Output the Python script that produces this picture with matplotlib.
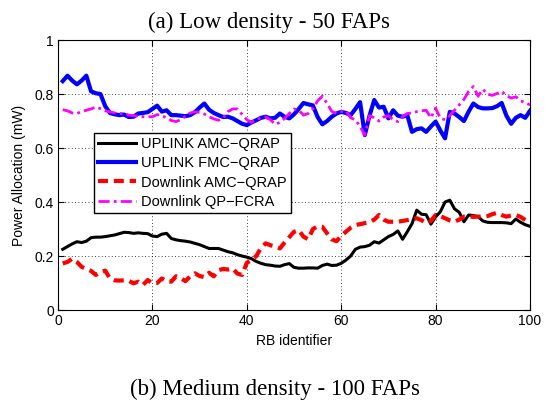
import numpy as np
import matplotlib
matplotlib.use('Agg')
import matplotlib.pyplot as plt

plt.rcParams['font.family'] = ['Liberation Sans', 'DejaVu Sans']

# RB identifiers
rb = np.arange(1, 101)

uplink_amc = [0.225, 0.235, 0.245, 0.253, 0.25, 0.255, 0.268, 0.27, 0.27, 0.272,
              0.275, 0.278, 0.283, 0.288, 0.287, 0.284, 0.286, 0.284, 0.283, 0.274,
              0.272, 0.281, 0.284, 0.265, 0.26, 0.257, 0.255, 0.252, 0.247, 0.242,
              0.235, 0.228, 0.228, 0.228, 0.222, 0.216, 0.212, 0.205, 0.2, 0.196,
              0.19, 0.18, 0.173, 0.168, 0.166, 0.163, 0.162, 0.168, 0.172, 0.158,
              0.155, 0.155, 0.156, 0.156, 0.155, 0.165, 0.17, 0.165, 0.166, 0.173,
              0.185, 0.2, 0.225, 0.233, 0.235, 0.24, 0.253, 0.248, 0.26, 0.272,
              0.28, 0.293, 0.262, 0.29, 0.32, 0.37, 0.355, 0.353, 0.318, 0.345,
              0.364, 0.4, 0.407, 0.375, 0.362, 0.327, 0.352, 0.35, 0.346, 0.33,
              0.325, 0.324, 0.324, 0.324, 0.323, 0.32, 0.337, 0.325, 0.316, 0.31]

uplink_fmc = [0.848, 0.868, 0.85, 0.836, 0.85, 0.868, 0.81, 0.803, 0.8, 0.755,
              0.73, 0.725, 0.722, 0.724, 0.715, 0.716, 0.728, 0.73, 0.733, 0.745,
              0.757, 0.735, 0.74, 0.722, 0.722, 0.72, 0.718, 0.722, 0.733, 0.75,
              0.765, 0.742, 0.73, 0.722, 0.715, 0.716, 0.71, 0.7, 0.69, 0.685,
              0.695, 0.703, 0.712, 0.716, 0.71, 0.712, 0.728, 0.716, 0.71, 0.725,
              0.745, 0.767, 0.762, 0.758, 0.715, 0.688, 0.7, 0.716, 0.728, 0.734,
              0.73, 0.722, 0.745, 0.77, 0.648, 0.72, 0.778, 0.75, 0.753, 0.71,
              0.74, 0.72, 0.716, 0.722, 0.66, 0.67, 0.673, 0.66, 0.68, 0.698,
              0.665, 0.636, 0.734, 0.728, 0.715, 0.7, 0.735, 0.765, 0.752, 0.747,
              0.747, 0.748, 0.755, 0.767, 0.72, 0.69, 0.712, 0.722, 0.712, 0.738]

downlink_amc = [0.173, 0.178, 0.19, 0.178, 0.16, 0.152, 0.145, 0.13, 0.14, 0.146,
                0.117, 0.11, 0.109, 0.11, 0.108, 0.099, 0.105, 0.093, 0.111, 0.099,
                0.1, 0.117, 0.106, 0.105, 0.125, 0.118, 0.107, 0.125, 0.136, 0.126,
                0.122, 0.138, 0.125, 0.148, 0.152, 0.15, 0.154, 0.135, 0.13, 0.175,
                0.185, 0.2, 0.23, 0.247, 0.24, 0.235, 0.228, 0.25, 0.27, 0.29,
                0.296, 0.272, 0.262, 0.3, 0.31, 0.308, 0.284, 0.262, 0.255, 0.275,
                0.29, 0.305, 0.315, 0.318, 0.322, 0.325, 0.335, 0.352, 0.335, 0.327,
                0.327, 0.327, 0.33, 0.333, 0.336, 0.34, 0.333, 0.322, 0.33, 0.352,
                0.348, 0.34, 0.332, 0.327, 0.335, 0.346, 0.346, 0.345, 0.346, 0.346,
                0.348, 0.355, 0.36, 0.352, 0.346, 0.35, 0.352, 0.345, 0.333, 0.34]

downlink_qp = [0.742, 0.738, 0.73, 0.728, 0.735, 0.74, 0.745, 0.752, 0.746, 0.738,
               0.734, 0.73, 0.728, 0.728, 0.722, 0.72, 0.718, 0.716, 0.716, 0.716,
               0.724, 0.72, 0.712, 0.702, 0.698, 0.705, 0.718, 0.73, 0.734, 0.732,
               0.726, 0.716, 0.708, 0.703, 0.712, 0.735, 0.745, 0.745, 0.725, 0.705,
               0.695, 0.705, 0.712, 0.715, 0.705, 0.688, 0.695, 0.71, 0.728, 0.745,
               0.74, 0.722, 0.728, 0.745, 0.775, 0.792, 0.765, 0.736, 0.728, 0.735,
               0.738, 0.712, 0.705, 0.68, 0.648, 0.72, 0.712, 0.7, 0.715, 0.72,
               0.705, 0.698, 0.716, 0.728, 0.73, 0.735, 0.738, 0.74, 0.712, 0.748,
               0.71, 0.705, 0.72, 0.74, 0.76, 0.78, 0.81, 0.828, 0.792, 0.818,
               0.8, 0.795, 0.802, 0.81, 0.795, 0.785, 0.79, 0.775, 0.768, 0.76]

fig = plt.figure(figsize=(5.49, 4.09), dpi=100)
ax = fig.add_axes([0.1057, 0.242, 0.8597, 0.660])

ax.plot(rb, uplink_amc, color='k', lw=2.2, label='UPLINK AMC\u2212QRAP')
ax.plot(rb, uplink_fmc, color='#0000ff', lw=3.0, label='UPLINK FMC\u2212QRAP')
ax.plot(rb, downlink_amc, color='#ff0000', lw=3.0, linestyle=(0, (2.4, 1.4)),
        label='Downlink AMC\u2212QRAP')
ax.plot(rb, downlink_qp, color='#ff00ff', lw=2.0, linestyle=(0, (4, 1.5, 1, 1.5)),
        label='Downlink QP\u2212FCRA')

ax.set_xlim(0, 100)
ax.set_ylim(0, 1)
ax.set_xticks([0, 20, 40, 60, 80, 100])
ax.set_yticks([0, 0.2, 0.4, 0.6, 0.8, 1])
ax.set_yticklabels(['0', '0.2', '0.4', '0.6', '0.8', '1'])
ax.tick_params(direction='in', top=True, right=True, length=4, labelsize=10, pad=3)
ax.grid(True, color='k', linestyle=(0, (1, 3)), lw=0.6)
for s in ax.spines.values():
    s.set_linewidth(0.8)

ax.set_xlabel('RB identifier', fontsize=10, labelpad=4)
ax.set_ylabel('Power Allocation (mW)', fontsize=10, labelpad=6)

leg = ax.legend(loc='upper left', bbox_to_anchor=(0.076, 0.656), borderaxespad=0,
                fontsize=10.5, fancybox=False, edgecolor='k', framealpha=1,
                handlelength=2.6, handletextpad=0.3, labelspacing=0.35,
                borderpad=0.3)
leg.get_frame().set_linewidth(1.0)

fig.text(0.49, 0.946, '(a) Low density - 50 FAPs', ha='center', va='center',
         family='Liberation Serif', fontsize=16.5)
fig.text(0.50, 0.047, '(b) Medium density - 100 FAPs', ha='center', va='center',
         family='Liberation Serif', fontsize=16.5)

fig.savefig('out.png', dpi=100)
